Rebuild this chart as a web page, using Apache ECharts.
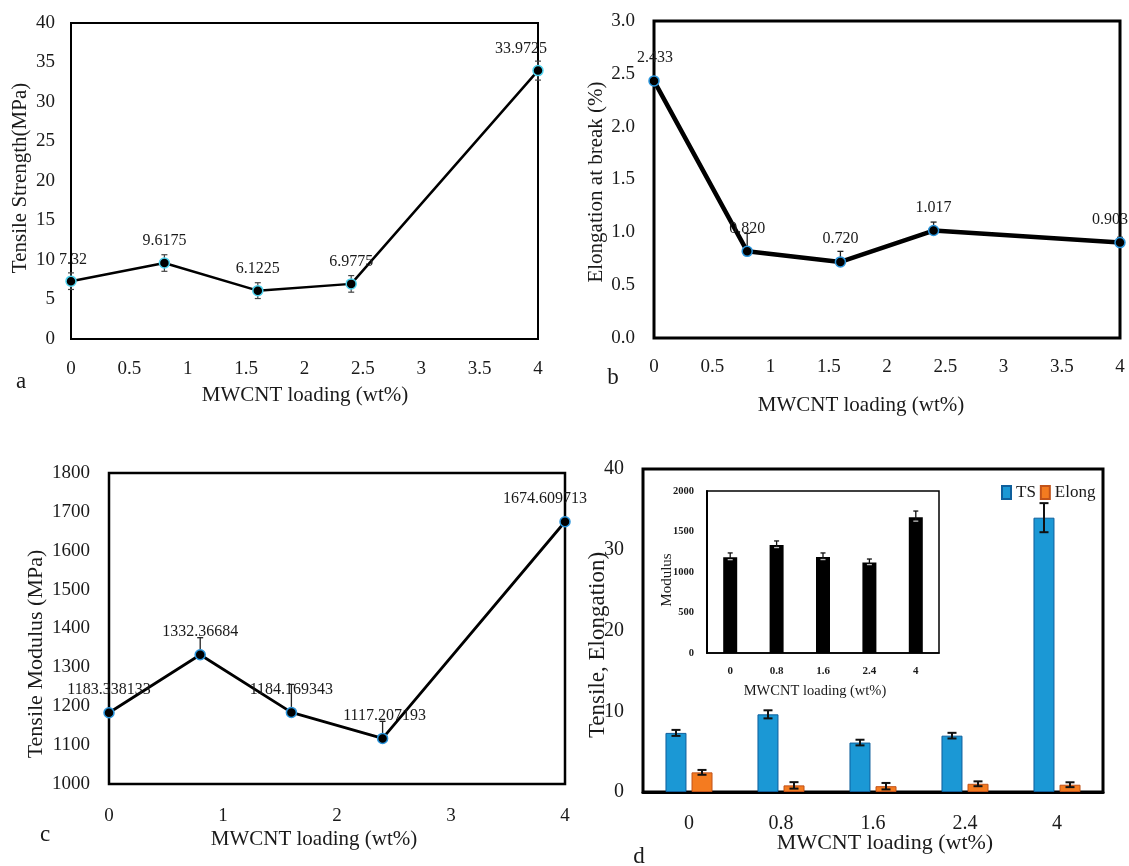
<!DOCTYPE html>
<html><head><meta charset="utf-8">
<script src="https://cdn.jsdelivr.net/npm/echarts@6/dist/echarts.min.js"></script>
<style>html,body{margin:0;padding:0;background:#fff}#c{width:1129px;height:866px}</style>
</head><body><div id="c"></div>
<script>
// ---- data ----
const loadings = [0, 0.8, 1.6, 2.4, 4];
const loadingLabels = ['0', '0.8', '1.6', '2.4', '4'];
const tensileStrength = [7.32, 9.6175, 6.1225, 6.9775, 33.9725];
const tsLabels = ['7.32', '9.6175', '6.1225', '6.9775', '33.9725'];
const tsErr = [1.05, 1.05, 1.0, 1.05, 1.2];
const elongation = [2.433, 0.820, 0.720, 1.017, 0.903];
const elongLabels = ['2.433', '0.820', '0.720', '1.017', '0.903'];
const elongErrUp = [0, 0.17, 0.10, 0.08, 0.05];
const modulus = [1183.338133, 1332.36684, 1184.169343, 1117.207193, 1674.609713];
const modulusLabels = ['1183.338133', '1332.36684', '1184.169343', '1117.207193', '1674.609713'];
const modulusErrUp = [0, 44, 72, 44, 0];
const barTsErr = [0.37, 0.5, 0.35, 0.35, 1.8];
const barElongErr = [0.3, 0.4, 0.4, 0.3, 0.3];
const insetModErr = [52, 51, 51, 43, 78];

// ---- styling ----
const FONT = '"Liberation Serif", "Times New Roman", serif';
const TXT = '#1a1a1a';

function errRender(o) {
  return function (params, api) {
    const x = api.value(0), lo = api.value(1), hi = api.value(2);
    const pLo = api.coord([x, lo]);
    const pHi = api.coord([x, hi]);
    const cx = pLo[0] + (o.dx || 0);
    const h = o.cap / 2;
    const st = { stroke: o.color, lineWidth: o.lw };
    const ch = [
      { type: 'line', shape: { x1: cx, y1: pLo[1], x2: cx, y2: pHi[1] }, style: st },
      { type: 'line', shape: { x1: cx - h, y1: pHi[1], x2: cx + h, y2: pHi[1] }, style: st }
    ];
    if (o.lowerCap) ch.push({ type: 'line', shape: { x1: cx - h, y1: pLo[1], x2: cx + h, y2: pLo[1] },
      style: { stroke: o.lowerColor || o.color, lineWidth: o.lw } });
    return { type: 'group', children: ch };
  };
}

const plain = v => String(v);
function valueX(gi, interval, fs, margin) {
  return { gridIndex: gi, type: 'value', min: 0, max: 4, interval: interval,
    axisLine: { show: true, lineStyle: { color: '#000', width: 2 } }, axisTick: { show: false },
    splitLine: { show: false },
    axisLabel: { color: TXT, fontFamily: FONT, fontSize: fs, margin: margin, formatter: plain } };
}
function valueY(gi, min, max, interval, fs, margin, fmt, bold) {
  return { gridIndex: gi, type: 'value', min: min, max: max, interval: interval,
    axisLine: { show: true, lineStyle: { color: '#000', width: 2 } }, axisTick: { show: false },
    splitLine: { show: false },
    axisLabel: { color: TXT, fontFamily: FONT, fontSize: fs, margin: margin, formatter: fmt || plain,
      fontWeight: bold ? 'bold' : 'normal' } };
}
function lineLabel(texts, dist) {
  return {
    show: true, position: 'top', distance: dist, color: TXT, fontFamily: FONT, fontSize: 16,
    formatter: p => texts[p.dataIndex]
  };
}
function withOffsets(xs, ys, offsets) {
  return xs.map((x, i) => ({ value: [x, ys[i]], label: { offset: offsets[i] } }));
}
function txt(x, y, s, fs, rot, extra) {
  return Object.assign({ type: 'text', x: x, y: y, rotation: rot || 0, z: 50,
    style: Object.assign({ text: s, fontFamily: FONT, fontSize: fs, fill: TXT, align: 'center', verticalAlign: 'middle' }, extra || {}) });
}

const aOffsets = [[2, 0], [0, 0], [0, 0], [0, 0], [-17, 0]];
const bOffsets = [[1, 0], [0, 0], [0, 0], [0, 0], [-10, 0]];
const cOffsets = [[0, 0], [0, 0], [0, 0], [2, 0], [-20, 0]];

const option = {
  backgroundColor: '#fff',
  animation: false,
  grid: [
    { left: 71, top: 23, width: 467, height: 316, show: true, borderColor: '#000', borderWidth: 2, backgroundColor: 'transparent' },
    { left: 654, top: 21, width: 466, height: 317, show: true, borderColor: '#000', borderWidth: 3, backgroundColor: 'transparent' },
    { left: 109, top: 473, width: 456, height: 311, show: true, borderColor: '#000', borderWidth: 2.5, backgroundColor: 'transparent' },
    { left: 643, top: 469, width: 460, height: 323, show: true, borderColor: '#000', borderWidth: 3, backgroundColor: 'transparent' },
    { left: 707, top: 491, width: 232, height: 162, show: true, borderColor: '#000', borderWidth: 1.5, backgroundColor: 'transparent', z: 5 }
  ],
  xAxis: [
    valueX(0, 0.5, 19, 21),
    valueX(1, 0.5, 19, 20),
    valueX(2, 1, 19, 23),
    { gridIndex: 3, type: 'category', data: loadingLabels,
      axisLine: { show: true, lineStyle: { color: '#000', width: 3 } }, axisTick: { show: false },
      axisLabel: { color: TXT, fontFamily: FONT, fontSize: 20, margin: 22 } },
    { gridIndex: 4, type: 'category', data: loadingLabels, z: 6,
      axisLine: { show: true, lineStyle: { color: '#000', width: 1.5 } }, axisTick: { show: false },
      axisLabel: { color: TXT, fontFamily: FONT, fontSize: 11, fontWeight: 'bold', margin: 13 } }
  ],
  yAxis: [
    valueY(0, 0, 40, 5, 19, 16),
    valueY(1, 0, 3, 0.5, 19, 19, v => v.toFixed(1)),
    valueY(2, 1000, 1800, 100, 19, 19),
    valueY(3, 0, 40, 10, 20, 19),
    Object.assign(valueY(4, 0, 2000, 500, 10.5, 13, null, true), { z: 6 })
  ],
  legend: {
    data: ['TS', 'Elong'], left: 996, top: 479, itemWidth: 9, itemHeight: 13, itemGap: 4, icon: 'rect',
    textStyle: { fontFamily: FONT, fontSize: 17, color: TXT }
  },
  series: [
    // ---- panel a ----
    { type: 'custom', name: 'errA', xAxisIndex: 0, yAxisIndex: 0, z: 1,
      renderItem: errRender({ cap: 6, color: '#444', lw: 1.2, lowerCap: true }),
      encode: { x: 0, y: [1, 2] },
      data: tensileStrength.map((v, i) => [loadings[i], v - tsErr[i], v + tsErr[i]]) },
    { type: 'line', name: 'TSline', xAxisIndex: 0, yAxisIndex: 0, z: 3,
      data: withOffsets(loadings, tensileStrength, aOffsets),
      lineStyle: { color: '#000', width: 2.5 }, symbol: 'circle', symbolSize: 10,
      itemStyle: { color: '#000', borderColor: '#4fd3ef', borderWidth: 1.5 },
      label: lineLabel(tsLabels, 8) },
    // ---- panel b ----
    { type: 'custom', name: 'errB', xAxisIndex: 1, yAxisIndex: 1, z: 1,
      renderItem: errRender({ cap: 6, color: '#222', lw: 1.3 }),
      encode: { x: 0, y: [1, 2] },
      data: elongation.map((v, i) => [loadings[i], v, v + elongErrUp[i]]) },
    { type: 'line', name: 'ELline', xAxisIndex: 1, yAxisIndex: 1, z: 3,
      data: withOffsets(loadings, elongation, bOffsets),
      lineStyle: { color: '#000', width: 4.5 }, symbol: 'circle', symbolSize: 10,
      itemStyle: { color: '#000', borderColor: '#2a95dc', borderWidth: 1.5 },
      label: lineLabel(elongLabels, 9) },
    // ---- panel c ----
    { type: 'custom', name: 'errC', xAxisIndex: 2, yAxisIndex: 2, z: 1,
      renderItem: errRender({ cap: 6, color: '#222', lw: 1.3 }),
      encode: { x: 0, y: [1, 2] },
      data: modulus.map((v, i) => [loadings[i], v, v + modulusErrUp[i]]) },
    { type: 'line', name: 'MODline', xAxisIndex: 2, yAxisIndex: 2, z: 3,
      data: withOffsets(loadings, modulus, cOffsets),
      lineStyle: { color: '#000', width: 2.8 }, symbol: 'circle', symbolSize: 10,
      itemStyle: { color: '#000', borderColor: '#2a95dc', borderWidth: 1.5 },
      label: lineLabel(modulusLabels, 9) },
    // ---- panel d ----
    { type: 'bar', name: 'TS', xAxisIndex: 3, yAxisIndex: 3, data: tensileStrength,
      barWidth: 21, barGap: '24%',
      itemStyle: { color: '#1b98d5', borderColor: '#0e5f9c', borderWidth: 1 } },
    { type: 'bar', name: 'Elong', xAxisIndex: 3, yAxisIndex: 3, data: elongation,
      barWidth: 21, barGap: '24%',
      itemStyle: { color: '#f47b20', borderColor: '#c2531a', borderWidth: 1 } },
    { type: 'custom', name: 'errTS', xAxisIndex: 3, yAxisIndex: 3, z: 4,
      renderItem: errRender({ cap: 9, color: '#111', lw: 2, lowerCap: true, dx: -13 }),
      encode: { x: 0, y: [1, 2] },
      data: tensileStrength.map((v, i) => [i, v - barTsErr[i], v + barTsErr[i]]) },
    { type: 'custom', name: 'errEL', xAxisIndex: 3, yAxisIndex: 3, z: 4,
      renderItem: errRender({ cap: 9, color: '#111', lw: 2, lowerCap: true, dx: 13 }),
      encode: { x: 0, y: [1, 2] },
      data: elongation.map((v, i) => [i, v - barElongErr[i], v + barElongErr[i]]) },
    // ---- inset ----
    { type: 'bar', name: 'ModBar', xAxisIndex: 4, yAxisIndex: 4, data: modulus, z: 6,
      barWidth: 14, itemStyle: { color: '#000' } },
    { type: 'custom', name: 'errMod', xAxisIndex: 4, yAxisIndex: 4, z: 7,
      renderItem: errRender({ cap: 5, color: '#111', lw: 1.3, lowerCap: true, lowerColor: '#bbb' }),
      encode: { x: 0, y: [1, 2] },
      data: modulus.map((v, i) => [i, v - insetModErr[i] * 0.6, v + insetModErr[i]]) }
  ],
  graphic: [
    // axis titles
    txt(305, 395, 'MWCNT loading (wt%)', 21),
    txt(861, 405, 'MWCNT loading (wt%)', 21),
    txt(314, 839, 'MWCNT loading (wt%)', 21),
    txt(885, 843, 'MWCNT loading (wt%)', 22),
    txt(815, 691, 'MWCNT loading (wt%)', 14.5),
    txt(20, 178, 'Tensile Strength(MPa)', 21, Math.PI / 2),
    txt(596, 182, 'Elongation at break (%)', 21, Math.PI / 2),
    txt(36, 654, 'Tensile Modulus (MPa)', 22, Math.PI / 2),
    txt(598, 645, 'Tensile, Elongation)', 23, Math.PI / 2),
    txt(667, 580, 'Modulus', 15, Math.PI / 2),
    // panel letters
    txt(21, 382, 'a', 23),
    txt(613, 378, 'b', 23),
    txt(45, 835, 'c', 23),
    txt(639, 857, 'd', 23)
  ]
};

const chart = echarts.init(document.getElementById('c'), null, { renderer: 'canvas' });
chart.setOption(option);
</script>
</body></html>
